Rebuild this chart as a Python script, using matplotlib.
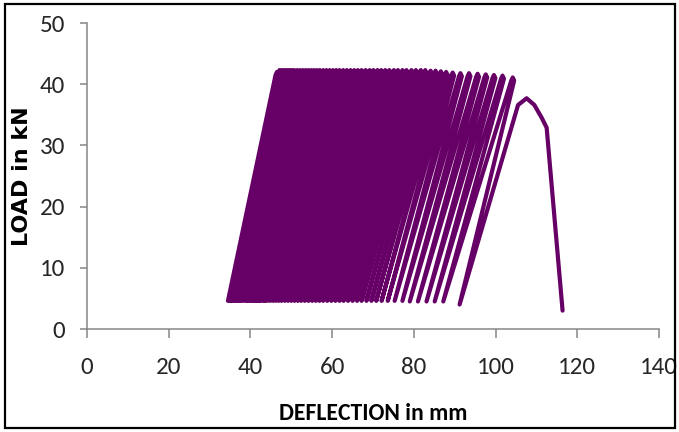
import matplotlib
matplotlib.use("Agg")
import matplotlib.pyplot as plt
from matplotlib.patches import Rectangle

# ---- data ----
# deflection (mm) at the start (valley) of each loading cycle
valley_defl = [34.5, 35.0, 35.5, 36.0, 36.5, 37.0, 37.5, 38.0,
               38.6, 39.2, 39.8, 40.4, 41.0, 41.6, 42.2, 42.8,
               43.4, 44.1, 44.8, 45.5, 46.2, 46.9, 47.6,
               48.4, 49.2, 50.0, 50.8, 51.6, 52.4,
               53.3, 54.2, 55.1, 56.0, 56.9, 57.8,
               58.8, 59.8, 60.8, 61.8, 62.8,
               63.9, 65.0, 66.1, 67.2,
               68.4, 69.6, 70.8,
               72.1, 73.6, 75.3, 77.2,
               79.0, 81.0, 83.1, 85.1, 87.2]
# load (kN) at each valley
valley_load = [4.6] * 50 + [4.6, 4.5, 4.5, 4.5, 4.5, 4.5]
# deflection (mm) at the peak of each cycle
peak_defl = [46.5, 47.1, 47.7, 48.3, 48.9, 49.5, 50.1, 50.7,
             51.4, 52.1, 52.8, 53.5, 54.2, 54.9, 55.6, 56.3,
             57.0, 57.8, 58.6, 59.4, 60.2, 61.0, 61.8,
             62.7, 63.6, 64.5, 65.4, 66.3, 67.2,
             68.2, 69.2, 70.1, 71.1, 72.0, 73.0,
             74.0, 75.1, 76.1, 77.2, 78.2,
             79.4, 80.5, 81.7, 82.8,
             84.1, 85.3, 86.6,
             87.9, 89.5, 91.4, 93.5,
             95.6, 97.6, 99.6, 101.7, 104.2]
# load (kN) at each peak
peak_load = [42.0] + [42.3] * 43 + [42.2, 42.2, 42.1,
             42.0, 41.9, 41.8, 41.8,
             41.7, 41.6, 41.5, 41.4, 41.1]
# final reloading to failure
final_defl = [91.2, 105.5, 107.6, 109.5, 111.3, 112.5, 116.4]
final_load = [4.0, 36.6, 37.7, 36.6, 34.5, 32.9, 3.0]

x_ticks = [0, 20, 40, 60, 80, 100, 120, 140]
y_ticks = [0, 10, 20, 30, 40, 50]

# ---- build path ----
xs, ys = [], []
for i in range(len(valley_defl)):
    xs.append(valley_defl[i]); ys.append(valley_load[i])
    xs += [peak_defl[i] - 0.35, peak_defl[i], peak_defl[i] + 0.35]
    ys += [peak_load[i] - 0.5, peak_load[i], peak_load[i] - 0.5]
xs += final_defl
ys += final_load

# ---- figure ----
W, H = 679, 432
fig = plt.figure(figsize=(W / 100, H / 100), dpi=100)
ax = fig.add_axes([87 / W, 1 - 329 / H, (659 - 87) / W, (329 - 23) / H])

purple = "#660066"
ax.plot(xs, ys, color=purple, lw=3.0, solid_joinstyle="round",
        solid_capstyle="round")

ax.set_xlim(0, 140)
ax.set_ylim(0, 50)
ax.set_xticks(x_ticks)
ax.set_yticks(y_ticks)

narrow = ["Carlito", "Lato", "DejaVu Sans"]
grey = "#868686"
for s in ["top", "right"]:
    ax.spines[s].set_visible(False)
for s in ["left", "bottom"]:
    ax.spines[s].set_color(grey)
    ax.spines[s].set_linewidth(1.1)
ax.tick_params(axis="y", direction="out", length=5, width=1.1, color=grey,
               pad=11, labelsize=18, labelcolor="#262626")
ax.tick_params(axis="x", direction="out", length=6.5, width=1.1, color=grey,
               pad=14, labelsize=18, labelcolor="#262626")
for lab in ax.get_xticklabels() + ax.get_yticklabels():
    lab.set_family(narrow)

fig.text(373 / W, 1 - 414 / H, "DEFLECTION in mm", family=narrow,
         fontweight="bold", fontsize=17, ha="center", va="center")
fig.text(22 / W, 1 - 176 / H, "LOAD in kN", family="DejaVu Sans",
         fontweight="bold", fontsize=16, ha="center", va="center",
         rotation=90)

fig.patches.append(Rectangle((5 / W, 4 / H), 670 / W, 424 / H,
                             transform=fig.transFigure, fill=False,
                             edgecolor="black", lw=1.6))

fig.savefig("out.png", dpi=100)
